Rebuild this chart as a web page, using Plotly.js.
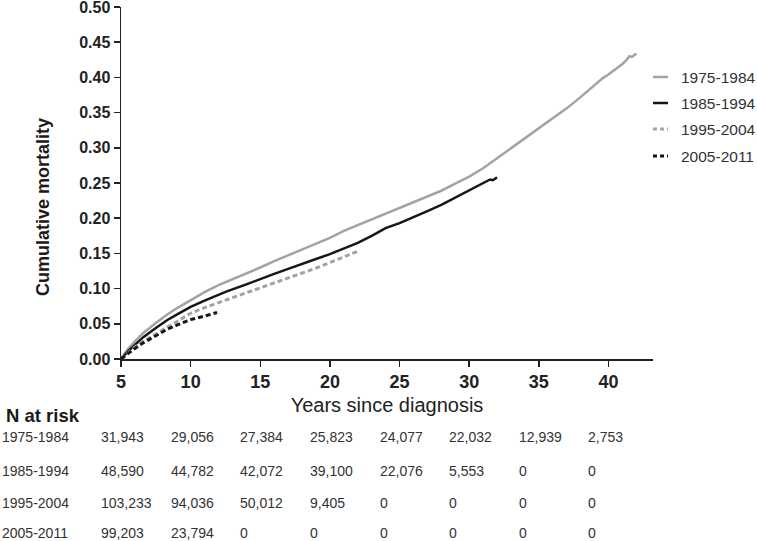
<!DOCTYPE html>
<html>
<head>
<meta charset="utf-8">
<script src="https://cdn.plot.ly/plotly-3.0.1.min.js"></script>
<style>html,body{margin:0;padding:0;background:#fff;}#chart{width:757px;height:541px;}</style>
</head>
<body>
<div id="chart"></div>
<script>
// ---- data ----
const cohorts = ["1975-1984", "1985-1994", "1995-2004", "2005-2011"];

const x7584 = [5,5.5,6,6.6,7.5,8.3,9,10,11,12,12.6,14,15,16,17,18,19,20,21,22,23,24,25,26,27,28,29,30,31,32,33,34,35,36,37,38,39,39.6,40,40.6,41,41.3,41.5,41.7,41.9,42];
const y7584 = [0,0.014,0.025,0.037,0.051,0.063,0.072,0.084,0.095,0.105,0.110,0.121,0.130,0.139,0.147,0.155,0.163,0.172,0.182,0.190,0.199,0.207,0.215,0.223,0.231,0.239,0.249,0.259,0.271,0.285,0.299,0.313,0.327,0.341,0.356,0.372,0.389,0.399,0.404,0.413,0.419,0.425,0.430,0.429,0.432,0.434];

const x8594 = [5,5.5,6,6.6,7.5,8.3,9,10,11,12,12.6,14,15,16,17,17.8,19,20,21,22,23,24,25,26,27,28,29,30,30.75,31.2,31.5,31.7,32];
const y8594 = [0,0.011,0.020,0.031,0.044,0.055,0.063,0.074,0.083,0.091,0.096,0.106,0.114,0.121,0.128,0.134,0.142,0.149,0.157,0.165,0.175,0.186,0.193,0.201,0.210,0.219,0.229,0.240,0.247,0.251,0.255,0.254,0.258];

const x9504 = [5,5.5,6,6.6,7.5,8.3,9,10,11,12,12.6,14,15,16,17,17.8,19,20,21,22];
const y9504 = [0,0.009,0.017,0.025,0.036,0.045,0.053,0.065,0.073,0.080,0.084,0.093,0.101,0.108,0.115,0.120,0.129,0.137,0.145,0.153];

const x0511 = [5,5.5,6,6.6,7.5,8.3,9,10,11,11.9];
const y0511 = [0,0.008,0.015,0.023,0.033,0.042,0.048,0.056,0.061,0.066];

const riskTimes = [5,10,15,20,25,30,35,40];
const risk7584 = ["31,943","29,056","27,384","25,823","24,077","22,032","12,939","2,753"];
const risk8594 = ["48,590","44,782","42,072","39,100","22,076","5,553","0","0"];
const risk9504 = ["103,233","94,036","50,012","9,405","0","0","0","0"];
const risk0511 = ["99,203","23,794","0","0","0","0","0","0"];

const xTickVals = [5,10,15,20,25,30,35,40];
const yTickVals = [0,0.05,0.10,0.15,0.20,0.25,0.30,0.35,0.40,0.45,0.50];

// ---- styling / layout ----
const W = 757, H = 541;
const M = {l:121, r:104, t:7, b:182};
const PW = W - M.l - M.r, PH = H - M.t - M.b;
const px2x = p => (p - M.l) / PW;
const py2y = p => (H - M.b - p) / PH;

const GRAY = "#a3a3a3", BLACK = "#161616";
const styles = [
  {color: GRAY, width: 2.5, dash: "solid"},
  {color: BLACK, width: 2.5, dash: "solid"},
  {color: GRAY, width: 3, dash: "5px,3px"},
  {color: BLACK, width: 3, dash: "5px,3px"}
];
const xs = [x7584, x8594, x9504, x0511];
const ys = [y7584, y8594, y9504, y0511];
const risks = [risk7584, risk8594, risk9504, risk0511];

const traces = cohorts.map((c, i) => ({
  type: "scatter", mode: "lines", name: c,
  x: xs[i], y: ys[i],
  line: {color: styles[i].color, width: styles[i].width, dash: styles[i].dash, shape: "linear"},
  hoverinfo: "skip"
}));

const FONT = "Liberation Sans, Arial, sans-serif";
const annotations = [];
const shapes = [];

// y-axis title
annotations.push({xref:"paper", yref:"paper", x:px2x(43), y:py2y(207), text:"Cumulative mortality",
  textangle:-90, showarrow:false, xanchor:"center", yanchor:"middle",
  font:{family:FONT, size:18, color:"#1a1a1a", weight:"bold"}});

// legend (manual)
const legY = [77, 103, 129, 156];
cohorts.forEach((c, i) => {
  shapes.push({type:"line", xref:"paper", yref:"paper", x0:px2x(653), x1:px2x(668), y0:py2y(legY[i]), y1:py2y(legY[i]),
    line:{color:styles[i].color, width:styles[i].width, dash: i >= 2 ? "4px,3px" : "solid"}});
  annotations.push({xref:"paper", yref:"paper", x:px2x(679), y:py2y(legY[i]), text:c, showarrow:false,
    xanchor:"left", yanchor:"middle", font:{family:FONT, size:15.5, color:"#333"}});
});

// N at risk table
annotations.push({xref:"paper", yref:"paper", x:px2x(4), y:py2y(415), text:"N at risk", showarrow:false,
  xanchor:"left", yanchor:"middle", font:{family:FONT, size:18.5, color:"#1a1a1a", weight:"bold"}});
const rowY = [437, 471, 503, 533];
cohorts.forEach((c, i) => {
  annotations.push({xref:"paper", yref:"paper", x:px2x(0), y:py2y(rowY[i]), text:c, showarrow:false,
    xanchor:"left", yanchor:"middle", font:{family:FONT, size:14, color:"#333"}});
  riskTimes.forEach((t, j) => {
    annotations.push({xref:"x", yref:"paper", x:t, xshift:-22, y:py2y(rowY[i]), text:risks[i][j], showarrow:false,
      xanchor:"left", yanchor:"middle", font:{family:FONT, size:14, color:"#333"}});
  });
});

const layout = {
  width: W, height: H,
  margin: {l:M.l, r:M.r, t:M.t, b:M.b, pad:0},
  paper_bgcolor: "#fff", plot_bgcolor: "#fff",
  showlegend: false,
  xaxis: {
    range: [5, 43.2], tickmode: "array", tickvals: xTickVals, ticktext: xTickVals.map(String),
    ticks: "outside", ticklen: 6, tickwidth: 1.5, tickcolor: "#222",
    showline: true, linewidth: 1.5, linecolor: "#222", showgrid: false, zeroline: false,
    ticklabeloverflow: "allow",
    tickfont: {family: FONT, size: 18, color: "#222", weight: "bold"},
    title: {text: "Years since diagnosis", standoff: 7, font: {family: FONT, size: 20, color: "#222"}}
  },
  yaxis: {
    range: [0, 0.5], tickmode: "array", tickvals: yTickVals, ticktext: yTickVals.map(v => v.toFixed(2)),
    ticks: "outside", ticklen: 6, tickwidth: 1.5, tickcolor: "#222",
    showline: true, linewidth: 1.5, linecolor: "#222", showgrid: false, zeroline: false,
    ticklabeloverflow: "allow",
    tickfont: {family: FONT, size: 16, color: "#222", weight: "bold"}
  },
  annotations: annotations,
  shapes: shapes
};

Plotly.newPlot("chart", traces, layout, {displayModeBar: false, staticPlot: true});
</script>
</body>
</html>
